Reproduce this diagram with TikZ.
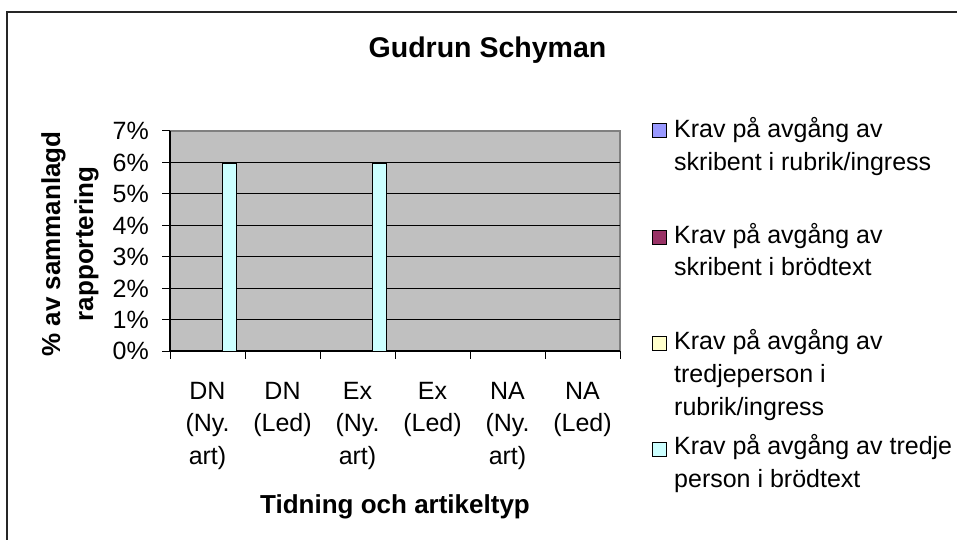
\documentclass[tikz,border=0pt]{standalone}
\usepackage{fontspec}
\setmainfont{Liberation Sans}
\definecolor{plotgray}{HTML}{C0C0C0}
\definecolor{bordergray}{HTML}{808080}
\definecolor{serA}{HTML}{9999FF}
\definecolor{serB}{HTML}{993366}
\definecolor{serC}{HTML}{FFFFCC}
\definecolor{serD}{HTML}{CCFFFF}
\begin{document}
\begin{tikzpicture}[x=1pt,y=-1pt,
  lbl/.style={font=\fontsize{25}{32.8}\selectfont, inner sep=0pt},
  boldlbl/.style={font=\fontsize{26}{33}\selectfont\bfseries, inner sep=0pt},
  legsq/.style={draw=black, line width=1pt, minimum size=14pt, inner sep=0pt, rectangle},
  grid line/.style={black, line width=1pt},
  tickline/.style={black, line width=1pt},
  barbox/.style={fill=serD, draw=black, line width=1pt}]
\useasboundingbox (0,0) rectangle (957,539);
\fill[white] (0,0) rectangle (957,539);
% outer frame (clipped at right and bottom)
\draw[line width=1.6pt, black!85] (7,560) -- (7,12) -- (980,12);
% title
\node[font=\fontsize{28.5}{33}\selectfont\bfseries, inner sep=0pt, anchor=base] (title) at (487.5,57.3) {Gudrun Schyman};
% plot area
\fill[plotgray] (170,131) rectangle (620,351);
\draw[bordergray, line width=1.5pt] (170,131) rectangle (620,351);
\foreach \p in {1,...,6} {
  \draw[grid line] (170,{351-31.43*\p}) -- (620,{351-31.43*\p});
}
\draw[black, line width=1.2pt] (170,131) -- (170,351) -- (620,351);
\foreach \p in {0,...,7} {
  \draw[tickline] (162,{351-31.43*\p}) -- (170,{351-31.43*\p});
  \node[lbl, anchor=base east] (ytick\p) at (149,{351-31.43*\p+8.9}) {\p\%};
}
\foreach \k in {0,...,6} {
  \draw[tickline] ({170+75*\k},351) -- ({170+75*\k},359);
}
% bars
\draw[barbox] (222.7,163.3) rectangle (236.7,351);
\draw[barbox] (372.7,163.3) rectangle (386.7,351);
% category labels
\node[lbl, align=center, anchor=north] (c1) at (207.5,376) {\strut DN\\(Ny.\\art)};
\node[lbl, align=center, anchor=north] (c2) at (282.5,376) {\strut DN\\(Led)};
\node[lbl, align=center, anchor=north] (c3) at (357.5,376) {\strut Ex\\(Ny.\\art)};
\node[lbl, align=center, anchor=north] (c4) at (432.5,376) {\strut Ex\\(Led)};
\node[lbl, align=center, anchor=north] (c5) at (507.5,376) {\strut NA\\(Ny.\\art)};
\node[lbl, align=center, anchor=north] (c6) at (582.5,376) {\strut NA\\(Led)};
% axis titles
\node[boldlbl, anchor=base] (xtitle) at (395,513) {Tidning och artikeltyp};
\node[boldlbl, rotate=90, align=center, anchor=base] (ytitle) at (93,244) {\% av sammanlagd\\rapportering};
% legend
\node[legsq, fill=serA] (s1) at (659,130) {};
\node[legsq, fill=serB] (s2) at (659,237) {};
\node[legsq, fill=serC] (s3) at (659,343) {};
\node[legsq, fill=serD] (s4) at (659,449) {};
\node[lbl, align=left, anchor=north west] (l1) at (674,114.5) {\strut Krav på avgång av\\skribent i rubrik/ingress};
\node[lbl, align=left, anchor=north west] (l2) at (674,219.9) {\strut Krav på avgång av\\skribent i brödtext};
\node[lbl, align=left, anchor=north west] (l3) at (674,326.5) {\strut Krav på avgång av\\tredjeperson i\\rubrik/ingress};
\node[lbl, align=left, anchor=north west] (l4) at (674,431.5) {\strut Krav på avgång av tredje\\person i brödtext};
\end{tikzpicture}
\end{document}
